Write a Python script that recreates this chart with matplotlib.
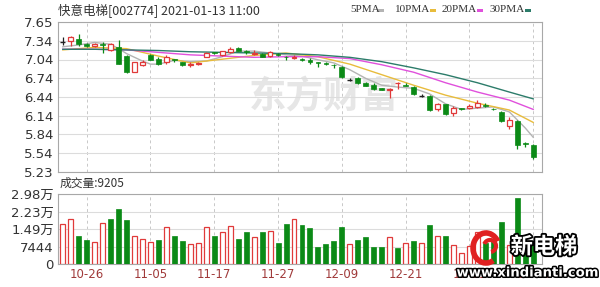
import matplotlib
matplotlib.use("Agg")
import matplotlib.pyplot as plt
import matplotlib.patheffects as pe
from matplotlib.patches import Arc, Rectangle
import numpy as np

# --- data (002774, daily, 2020-10-21 .. 2021-01-13) ---
dates = ["10-21", "10-22", "10-23", "10-26", "10-27", "10-28", "10-29", "10-30",
         "11-02", "11-03", "11-04", "11-05", "11-06", "11-09", "11-10", "11-11",
         "11-12", "11-13", "11-16", "11-17", "11-18", "11-19", "11-20", "11-23",
         "11-24", "11-25", "11-26", "11-27", "11-30", "12-01", "12-02", "12-03",
         "12-04", "12-07", "12-08", "12-09", "12-10", "12-11", "12-14", "12-15",
         "12-16", "12-17", "12-18", "12-21", "12-22", "12-23", "12-24", "12-25",
         "12-28", "12-29", "12-30", "12-31", "01-04", "01-05", "01-06", "01-07",
         "01-08", "01-11", "01-12", "01-13"]
opens = [7.33, 7.35, 7.37, 7.29, 7.26, 7.30, 7.20, 7.25, 7.10, 6.85,
         6.96, 7.12, 7.06, 7.00, 7.05, 7.00, 6.96, 6.98, 7.09, 7.16,
         7.11, 7.17, 7.23, 7.18, 7.14, 7.14, 7.10, 7.13, 7.09, 7.07,
         7.06, 7.04, 7.00, 6.99, 6.96, 6.93, 6.72, 6.75, 6.67, 6.64,
         6.58, 6.56, 6.66, 6.64, 6.60, 6.46, 6.46, 6.25, 6.32, 6.18,
         6.26, 6.26, 6.28, 6.31, 6.25, 6.20, 5.98, 6.06, 5.69, 5.67]
closes = [7.33, 7.40, 7.30, 7.27, 7.29, 7.28, 7.29, 6.98, 6.84, 7.00,
          7.01, 7.04, 6.98, 7.09, 7.03, 6.95, 6.98, 6.99, 7.15, 7.15,
          7.18, 7.22, 7.19, 7.17, 7.15, 7.09, 7.17, 7.11, 7.08, 7.09,
          7.03, 7.00, 6.99, 6.97, 6.95, 6.76, 6.72, 6.66, 6.62, 6.57,
          6.56, 6.57, 6.67, 6.62, 6.49, 6.46, 6.23, 6.32, 6.17, 6.26,
          6.24, 6.29, 6.35, 6.30, 6.24, 6.06, 6.07, 5.66, 5.68, 5.48]
highs = [7.41, 7.43, 7.46, 7.31, 7.31, 7.32, 7.31, 7.36, 7.11, 7.01,
         7.03, 7.14, 7.08, 7.11, 7.06, 7.01, 7.01, 7.01, 7.16, 7.17,
         7.19, 7.24, 7.24, 7.20, 7.20, 7.15, 7.19, 7.15, 7.10, 7.11,
         7.07, 7.07, 7.01, 7.00, 6.97, 6.94, 6.74, 6.76, 6.68, 6.66,
         6.59, 6.58, 6.68, 6.66, 6.61, 6.49, 6.47, 6.35, 6.33, 6.30,
         6.27, 6.33, 6.39, 6.34, 6.26, 6.22, 6.11, 6.07, 5.72, 5.68]
lows = [7.28, 7.26, 7.26, 7.25, 7.25, 7.15, 7.18, 6.97, 6.83, 6.84,
        6.94, 7.03, 6.96, 6.97, 7.01, 6.94, 6.93, 6.96, 7.08, 7.13,
        7.10, 7.15, 7.18, 7.13, 7.12, 7.08, 7.08, 7.10, 7.04, 7.06,
        7.02, 6.98, 6.92, 6.96, 6.90, 6.75, 6.70, 6.65, 6.61, 6.55,
        6.55, 6.43, 6.57, 6.61, 6.48, 6.44, 6.22, 6.21, 6.15, 6.13,
        6.23, 6.24, 6.26, 6.28, 6.23, 6.04, 5.92, 5.60, 5.63, 5.44]
volumes = [16900, 19160, 12050, 10200, 9230, 17300, 19160, 23280, 18730, 12050,
           10640, 9500, 10200, 15620, 12050, 9790, 8510, 8800, 15620, 12050,
           13760, 16310, 10640, 13760, 11630, 13760, 14190, 8800, 17030, 19160,
           16600, 15200, 7380, 8380, 9790, 15620, 8380, 10200, 11630, 7380,
           7380, 11630, 6670, 8800, 9790, 8800, 16600, 12050, 12050, 8090,
           4540, 7800, 13760, 9000, 10000, 17740, 8000, 27950, 6000, 9205]
vol_up = [1, 1, 0, 0, 1, 1, 0, 0, 0, 1,
          1, 1, 0, 1, 0, 0, 1, 1, 1, 0,
          1, 1, 0, 0, 1, 0, 1, 0, 0, 1,
          0, 0, 0, 0, 0, 0, 1, 0, 0, 0,
          0, 1, 0, 1, 0, 1, 0, 1, 0, 1,
          1, 1, 1, 0, 0, 0, 1, 0, 0, 0]

# moving averages, read at sample points
ma5_x = [0, 2, 4, 6, 7, 8, 9, 10, 11, 12, 14, 16, 18, 20, 22, 24, 26, 28, 30,
         32, 34, 36, 38, 40, 42, 44, 46, 48, 50, 52, 54, 56, 57, 58, 59]
ma5 = [7.25, 7.28, 7.32, 7.29, 7.22, 7.14, 7.08, 7.02, 6.97, 6.97, 7.03, 7.01,
       7.02, 7.09, 7.18, 7.18, 7.15, 7.12, 7.10, 7.04, 6.99, 6.88, 6.74, 6.63,
       6.60, 6.58, 6.49, 6.33, 6.24, 6.26, 6.28, 6.20, 6.07, 5.94, 5.79]
ma_x = [0, 4, 8, 12, 16, 20, 24, 28, 32, 36, 40, 44, 48, 52, 56, 59]
ma10 = [7.20, 7.24, 7.22, 7.10, 6.99, 7.05, 7.11, 7.15, 7.09, 6.97, 6.80, 6.63,
        6.47, 6.34, 6.23, 6.03]
ma20 = [7.21, 7.21, 7.20, 7.16, 7.12, 7.10, 7.08, 7.09, 7.09, 7.06, 6.96, 6.84,
        6.67, 6.52, 6.39, 6.24]
ma30 = [7.21, 7.21, 7.20, 7.19, 7.17, 7.16, 7.15, 7.14, 7.12, 7.08, 7.01, 6.91,
        6.80, 6.67, 6.52, 6.41]

price_lo, price_hi = 5.23, 7.65
price_labels = ["5.23", "5.54", "5.84", "6.14", "6.44", "6.74", "7.04", "7.34", "7.65"]
vol_hi = 29800
vol_labels = ["0", "7444", "1.49万", "2.23万", "2.98万"]
tick_idx = [3, 11, 19, 27, 35, 43, 51, 59]

# --- style ---
RED = "#e03a3a"
GREEN = "#0b8a16"
BLACK = "#222222"
FRAME = "#a8a8a8"
HGRID = "#dcdcdc"
VGRID = "#c8c8c8"
C5, C10, C20, C30 = "#b4b4b4", "#e8bc3c", "#e050dc", "#2c7c6a"
LABEL = "#333333"
FONT = ["DejaVu Sans", "Noto Sans CJK SC"]
CJK = ["Noto Sans CJK SC", "DejaVu Sans"]

plt.rcParams["font.family"] = FONT

W, H = 600, 287
fig = plt.figure(figsize=(6.0, 2.87), dpi=100)
fig.patch.set_facecolor("white")


def px_axes(left, top, right, bottom):
    return fig.add_axes([left / W, 1 - bottom / H, (right - left) / W, (bottom - top) / H])


ax = px_axes(58, 22, 542, 172)
axv = px_axes(58, 194, 542, 264)

x = np.arange(len(closes))
for a in (ax, axv):
    for s in a.spines.values():
        s.set_color(FRAME)
        s.set_linewidth(0.8)
    a.set_xlim(-0.6, 60.1)
    a.set_xticks(tick_idx)
    a.tick_params(length=0, labelsize=8.5, colors=LABEL, pad=3)
    a.grid(axis="y", color=HGRID, linewidth=0.8, linestyle="-")
    for t in tick_idx:
        a.axvline(t, color=VGRID, linewidth=0.7, linestyle=(0, (3, 3)), zorder=0)
    a.set_axisbelow(True)

# watermark behind the candles
ax.text(0.55, 0.5, "东方财富", transform=ax.transAxes, ha="center", va="center",
        fontsize=27, fontweight="bold", color="#e6e6e6", family=CJK, zorder=0,
        style="italic")

# candles
for i in x:
    o, c, hi, lo = opens[i], closes[i], highs[i], lows[i]
    if c > o:
        col = RED
    elif c < o:
        col = GREEN
    else:
        col = BLACK
    ax.vlines(i, lo, hi, color=col, linewidth=0.9, zorder=3)
    if c == o:
        ax.hlines(o, i - 0.32, i + 0.32, color=col, linewidth=1.0, zorder=4)
    elif c > o:
        ax.bar(i, c - o, bottom=o, width=0.6, facecolor="white", edgecolor=col,
               linewidth=0.9, zorder=4)
    else:
        ax.bar(i, o - c, bottom=c, width=0.6, facecolor=col, edgecolor=col,
               linewidth=0.5, zorder=4)

ax.plot(ma5_x, ma5, color=C5, linewidth=1.0, zorder=2)
ax.plot(ma_x, ma10, color=C10, linewidth=1.0, zorder=2)
ax.plot(ma_x, ma20, color=C20, linewidth=1.0, zorder=2)
ax.plot(ma_x, ma30, color=C30, linewidth=1.0, zorder=2)

ax.set_ylim(price_lo, price_hi)
ax.set_yticks(np.linspace(price_lo, price_hi, len(price_labels)))
ax.set_yticklabels(price_labels)
ax.tick_params(axis="y", labelsize=9.5)
ax.set_xticklabels([])

# volume bars
for i in x:
    if vol_up[i]:
        axv.bar(i, volumes[i], width=0.62, facecolor="white", edgecolor=RED,
                linewidth=0.9, zorder=3)
    else:
        axv.bar(i, volumes[i], width=0.62, facecolor=GREEN, edgecolor=GREEN,
                linewidth=0.5, zorder=3)
axv.set_ylim(0, vol_hi)
axv.set_yticks(np.linspace(0, vol_hi, len(vol_labels)))
axv.set_yticklabels(vol_labels)
axv.tick_params(axis="y", labelsize=9.5)
axv.set_xticklabels([dates[t] for t in tick_idx], color="#a03a3a", fontsize=8.5)

# --- texts drawn in pixel space on a transparent overlay ---
ov = fig.add_axes([0, 0, 1, 1], zorder=10)
ov.set_xlim(0, W)
ov.set_ylim(H, 0)
ov.axis("off")
ov.patch.set_alpha(0)

ov.text(58, 10, "快意电梯[002774] 2021-01-13 11:00", fontsize=9, color=LABEL,
        family=CJK, va="center", ha="left")
ov.text(60, 183, "成交量:%d" % volumes[-1], fontsize=8.5, color=LABEL,
        family=CJK, va="center", ha="left")

legend = [("5PMA", C5, 350), ("10PMA", C10, 395), ("20PMA", C20, 442), ("30PMA", C30, 490)]
for name, col, lx in legend:
    ov.text(lx, 10, name, fontsize=8, color=LABEL, family=["Liberation Serif"],
            va="center", ha="left")
    off = 28 if name == "5PMA" else 35
    ov.add_patch(Rectangle((lx + off, 8.5), 6, 3.5, facecolor=col, edgecolor="none"))

# site logo watermark (bottom right)
stroke = [pe.withStroke(linewidth=2.6, foreground="black")]
ov.text(544, 247, "新电梯", fontsize=16, fontweight="bold", color="white",
        family=CJK, ha="center", va="center", path_effects=stroke)
ov.text(528, 273, "www.xindianti.com", fontsize=9.5, fontweight="bold", color="white",
        ha="center", va="center", path_effects=[pe.withStroke(linewidth=2.2, foreground="black")])
ov.add_patch(Arc((486, 248), 26, 30, theta1=60, theta2=330, color="#e02020", linewidth=4))
ov.add_patch(Arc((490, 246), 12, 12, theta1=200, theta2=80, color="#e02020", linewidth=3))

fig.savefig("out.png", dpi=100, facecolor="white")
